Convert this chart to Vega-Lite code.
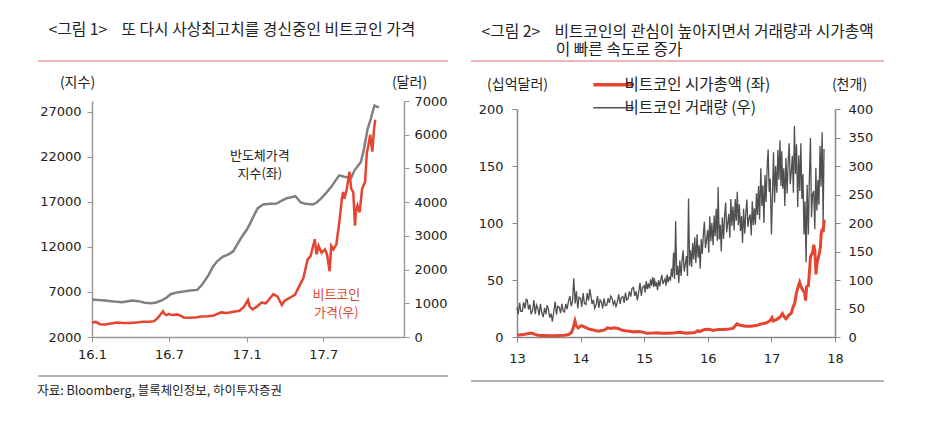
{
"$schema": "https://vega.github.io/schema/vega-lite/v6.json",
"background": "white",
"padding": {"left": 37, "top": 21, "right": 10, "bottom": 10},
"config": {
  "view": {"stroke": null},
  "font": "Noto Sans CJK KR",
  "axis": {"labelFont": "DejaVu Sans", "labelFontSize": 13, "labelColor": "#222", "titleFont": "Noto Sans CJK KR", "titleFontSize": 14, "titleFontWeight": "normal", "titleColor": "#222", "grid": false, "domainColor": "#999", "domainWidth": 1.5, "tickColor": "#999", "tickSize": 5, "labelPadding": 4, "labelOverlap": false, "labelFlush": false}
},
"datasets": {
"semi": [{"d":"2016-01-01","v":6150},{"d":"2016-01-15","v":6120},{"d":"2016-02-01","v":6050},{"d":"2016-02-15","v":5980},{"d":"2016-03-01","v":5900},{"d":"2016-03-13","v":5870},{"d":"2016-03-25","v":5980},{"d":"2016-04-06","v":6060},{"d":"2016-04-20","v":5980},{"d":"2016-05-05","v":5800},{"d":"2016-05-20","v":5760},{"d":"2016-06-01","v":5830},{"d":"2016-06-15","v":6100},{"d":"2016-06-25","v":6350},{"d":"2016-07-05","v":6750},{"d":"2016-07-20","v":6950},{"d":"2016-08-05","v":7050},{"d":"2016-08-20","v":7150},{"d":"2016-09-06","v":7230},{"d":"2016-09-17","v":7790},{"d":"2016-10-03","v":8900},{"d":"2016-10-13","v":9800},{"d":"2016-10-23","v":10400},{"d":"2016-11-05","v":10900},{"d":"2016-11-20","v":11200},{"d":"2016-11-30","v":11500},{"d":"2016-12-10","v":12300},{"d":"2016-12-20","v":13100},{"d":"2017-01-01","v":13900},{"d":"2017-01-08","v":14500},{"d":"2017-01-15","v":15200},{"d":"2017-01-27","v":16300},{"d":"2017-02-09","v":16710},{"d":"2017-02-25","v":16800},{"d":"2017-03-13","v":16820},{"d":"2017-03-25","v":17150},{"d":"2017-04-05","v":17400},{"d":"2017-04-14","v":17490},{"d":"2017-04-26","v":17630},{"d":"2017-05-09","v":16930},{"d":"2017-05-20","v":16780},{"d":"2017-06-06","v":16710},{"d":"2017-06-15","v":16900},{"d":"2017-06-26","v":17380},{"d":"2017-07-08","v":18000},{"d":"2017-07-20","v":18670},{"d":"2017-08-01","v":19500},{"d":"2017-08-08","v":19950},{"d":"2017-08-20","v":19800},{"d":"2017-09-05","v":19670},{"d":"2017-09-13","v":20500},{"d":"2017-09-28","v":21430},{"d":"2017-10-05","v":22800},{"d":"2017-10-14","v":25120},{"d":"2017-10-22","v":26300},{"d":"2017-10-30","v":27700},{"d":"2017-11-05","v":27550},{"d":"2017-11-10","v":27520}],
"btc": [{"d":"2016-01-01","v":430},{"d":"2016-01-10","v":448},{"d":"2016-01-20","v":380},{"d":"2016-02-01","v":370},{"d":"2016-02-15","v":400},{"d":"2016-03-01","v":430},{"d":"2016-03-15","v":415},{"d":"2016-04-01","v":416},{"d":"2016-04-15","v":430},{"d":"2016-05-01","v":450},{"d":"2016-05-15","v":455},{"d":"2016-05-27","v":470},{"d":"2016-06-05","v":575},{"d":"2016-06-12","v":680},{"d":"2016-06-17","v":760},{"d":"2016-06-20","v":690},{"d":"2016-06-25","v":650},{"d":"2016-07-01","v":680},{"d":"2016-07-10","v":650},{"d":"2016-07-20","v":670},{"d":"2016-08-01","v":610},{"d":"2016-08-05","v":575},{"d":"2016-08-15","v":570},{"d":"2016-09-01","v":575},{"d":"2016-09-15","v":610},{"d":"2016-10-01","v":615},{"d":"2016-10-15","v":640},{"d":"2016-11-01","v":730},{"d":"2016-11-15","v":710},{"d":"2016-12-01","v":750},{"d":"2016-12-15","v":780},{"d":"2016-12-25","v":890},{"d":"2017-01-04","v":1100},{"d":"2017-01-08","v":900},{"d":"2017-01-15","v":820},{"d":"2017-01-25","v":900},{"d":"2017-02-05","v":1020},{"d":"2017-02-15","v":1000},{"d":"2017-02-25","v":1150},{"d":"2017-03-05","v":1270},{"d":"2017-03-15","v":1200},{"d":"2017-03-25","v":950},{"d":"2017-04-01","v":1080},{"d":"2017-04-15","v":1180},{"d":"2017-04-25","v":1250},{"d":"2017-05-05","v":1500},{"d":"2017-05-15","v":1750},{"d":"2017-05-25","v":2300},{"d":"2017-06-01","v":2400},{"d":"2017-06-11","v":2900},{"d":"2017-06-15","v":2450},{"d":"2017-06-20","v":2700},{"d":"2017-06-27","v":2500},{"d":"2017-07-05","v":2600},{"d":"2017-07-10","v":2450},{"d":"2017-07-16","v":1950},{"d":"2017-07-20","v":2700},{"d":"2017-07-25","v":2600},{"d":"2017-08-01","v":2750},{"d":"2017-08-08","v":3400},{"d":"2017-08-14","v":4100},{"d":"2017-08-17","v":4300},{"d":"2017-08-20","v":4100},{"d":"2017-08-25","v":4350},{"d":"2017-09-01","v":4900},{"d":"2017-09-05","v":4400},{"d":"2017-09-10","v":4300},{"d":"2017-09-14","v":3300},{"d":"2017-09-16","v":3700},{"d":"2017-09-20","v":3900},{"d":"2017-09-25","v":3700},{"d":"2017-10-01","v":4400},{"d":"2017-10-08","v":4600},{"d":"2017-10-12","v":5450},{"d":"2017-10-16","v":5700},{"d":"2017-10-20","v":6000},{"d":"2017-10-25","v":5500},{"d":"2017-10-29","v":6150},{"d":"2017-11-01","v":6450}],
"mcap": [{"d":"2013-01-01","v":1.5},{"d":"2013-02-15","v":2.5},{"d":"2013-03-25","v":3.5},{"d":"2013-04-10","v":2.5},{"d":"2013-05-01","v":1.5},{"d":"2013-06-01","v":1.3},{"d":"2013-07-01","v":1.0},{"d":"2013-08-01","v":1.2},{"d":"2013-09-01","v":1.4},{"d":"2013-10-01","v":1.6},{"d":"2013-10-25","v":2.2},{"d":"2013-11-10","v":4},{"d":"2013-11-20","v":8},{"d":"2013-11-30","v":14},{"d":"2013-12-07","v":10},{"d":"2013-12-18","v":8},{"d":"2014-01-05","v":10},{"d":"2014-01-20","v":9},{"d":"2014-02-10","v":7.5},{"d":"2014-02-28","v":6.5},{"d":"2014-03-20","v":6},{"d":"2014-04-10","v":5},{"d":"2014-04-25","v":5.5},{"d":"2014-05-15","v":6},{"d":"2014-06-05","v":8},{"d":"2014-06-25","v":7.5},{"d":"2014-07-15","v":8},{"d":"2014-08-05","v":7.5},{"d":"2014-08-25","v":6},{"d":"2014-09-15","v":5.5},{"d":"2014-10-10","v":5},{"d":"2014-11-01","v":4.5},{"d":"2014-12-01","v":4.8},{"d":"2014-12-25","v":4.3},{"d":"2015-01-15","v":3.2},{"d":"2015-02-10","v":3.4},{"d":"2015-03-10","v":3.8},{"d":"2015-04-10","v":3.3},{"d":"2015-05-15","v":3.3},{"d":"2015-06-15","v":3.4},{"d":"2015-07-10","v":4.0},{"d":"2015-08-01","v":4.2},{"d":"2015-08-25","v":3.4},{"d":"2015-09-20","v":3.5},{"d":"2015-10-20","v":4.0},{"d":"2015-11-05","v":5.5},{"d":"2015-11-15","v":4.8},{"d":"2015-12-15","v":6.5},{"d":"2016-01-10","v":6.8},{"d":"2016-02-01","v":5.8},{"d":"2016-03-01","v":6.5},{"d":"2016-04-01","v":6.5},{"d":"2016-05-01","v":7},{"d":"2016-05-25","v":7.5},{"d":"2016-06-17","v":11.5},{"d":"2016-07-01","v":10.5},{"d":"2016-08-05","v":9.5},{"d":"2016-09-05","v":9.5},{"d":"2016-10-05","v":10},{"d":"2016-11-05","v":11.5},{"d":"2016-12-05","v":12.5},{"d":"2016-12-25","v":14.5},{"d":"2017-01-04","v":17},{"d":"2017-01-12","v":14},{"d":"2017-02-01","v":15.5},{"d":"2017-02-20","v":17.5},{"d":"2017-03-05","v":20.5},{"d":"2017-03-18","v":17},{"d":"2017-03-25","v":16},{"d":"2017-04-10","v":19},{"d":"2017-04-25","v":21},{"d":"2017-05-05","v":26},{"d":"2017-05-15","v":30},{"d":"2017-05-25","v":39},{"d":"2017-06-05","v":45},{"d":"2017-06-12","v":48},{"d":"2017-06-20","v":44},{"d":"2017-07-01","v":41},{"d":"2017-07-10","v":39},{"d":"2017-07-16","v":32},{"d":"2017-07-22","v":44},{"d":"2017-08-01","v":45},{"d":"2017-08-05","v":52},{"d":"2017-08-13","v":70},{"d":"2017-08-18","v":72},{"d":"2017-08-25","v":74},{"d":"2017-09-01","v":81},{"d":"2017-09-07","v":76},{"d":"2017-09-14","v":55},{"d":"2017-09-20","v":65},{"d":"2017-09-28","v":70},{"d":"2017-10-05","v":75},{"d":"2017-10-10","v":80},{"d":"2017-10-13","v":90},{"d":"2017-10-20","v":95},{"d":"2017-10-25","v":92},{"d":"2017-10-31","v":103}],
"vol": [
{"d":"2013-01-01","v":52},{"d":"2013-01-08","v":40},{"d":"2013-01-16","v":60},{"d":"2013-01-23","v":45},
{"d":"2013-02-01","v":45},{"d":"2013-02-08","v":61},{"d":"2013-02-16","v":50},{"d":"2013-02-23","v":66},
{"d":"2013-03-01","v":65},{"d":"2013-03-08","v":48},{"d":"2013-03-16","v":57},{"d":"2013-03-23","v":40},
{"d":"2013-04-01","v":47},{"d":"2013-04-08","v":65},{"d":"2013-04-16","v":40},{"d":"2013-04-23","v":56},
{"d":"2013-05-01","v":50},{"d":"2013-05-08","v":38},{"d":"2013-05-16","v":58},{"d":"2013-05-23","v":43},
{"d":"2013-06-01","v":35},{"d":"2013-06-08","v":51},{"d":"2013-06-16","v":40},{"d":"2013-06-23","v":56},
{"d":"2013-07-01","v":48},{"d":"2013-07-08","v":34},{"d":"2013-07-16","v":41},{"d":"2013-07-23","v":27},
{"d":"2013-08-01","v":46},{"d":"2013-08-08","v":62},{"d":"2013-08-16","v":39},{"d":"2013-08-23","v":54},
{"d":"2013-09-01","v":52},{"d":"2013-09-08","v":42},{"d":"2013-09-16","v":58},{"d":"2013-09-23","v":46},
{"d":"2013-10-01","v":44},{"d":"2013-10-08","v":58},{"d":"2013-10-16","v":49},{"d":"2013-10-23","v":62},
{"d":"2013-11-01","v":72},{"d":"2013-11-08","v":54},{"d":"2013-11-16","v":63},{"d":"2013-11-23","v":103},
{"d":"2013-12-01","v":59},{"d":"2013-12-08","v":80},{"d":"2013-12-16","v":50},{"d":"2013-12-23","v":70},
{"d":"2014-01-01","v":68},{"d":"2014-01-08","v":53},{"d":"2014-01-16","v":77},{"d":"2014-01-23","v":59},
{"d":"2014-02-01","v":57},{"d":"2014-02-08","v":77},{"d":"2014-02-16","v":64},{"d":"2014-02-23","v":84},
{"d":"2014-03-01","v":73},{"d":"2014-03-08","v":58},{"d":"2014-03-16","v":65},{"d":"2014-03-23","v":50},
{"d":"2014-04-01","v":57},{"d":"2014-04-08","v":72},{"d":"2014-04-16","v":51},{"d":"2014-04-23","v":65},
{"d":"2014-05-01","v":61},{"d":"2014-05-08","v":50},{"d":"2014-05-16","v":68},{"d":"2014-05-23","v":55},
{"d":"2014-06-01","v":56},{"d":"2014-06-08","v":68},{"d":"2014-06-16","v":60},{"d":"2014-06-23","v":72},
{"d":"2014-07-01","v":68},{"d":"2014-07-08","v":57},{"d":"2014-07-16","v":63},{"d":"2014-07-23","v":52},
{"d":"2014-08-01","v":63},{"d":"2014-08-08","v":75},{"d":"2014-08-16","v":58},{"d":"2014-08-23","v":69},
{"d":"2014-09-01","v":71},{"d":"2014-09-08","v":60},{"d":"2014-09-16","v":78},{"d":"2014-09-23","v":65},
{"d":"2014-10-01","v":67},{"d":"2014-10-08","v":80},{"d":"2014-10-16","v":71},{"d":"2014-10-23","v":85},
{"d":"2014-11-01","v":87},{"d":"2014-11-08","v":72},{"d":"2014-11-16","v":80},{"d":"2014-11-23","v":64},
{"d":"2014-12-01","v":79},{"d":"2014-12-08","v":95},{"d":"2014-12-16","v":72},{"d":"2014-12-23","v":87},
{"d":"2015-01-01","v":90},{"d":"2015-01-07","v":78},{"d":"2015-01-13","v":98},{"d":"2015-01-19","v":84},{"d":"2015-01-25","v":94},
{"d":"2015-02-01","v":85},{"d":"2015-02-07","v":101},{"d":"2015-02-13","v":90},{"d":"2015-02-19","v":105},{"d":"2015-02-25","v":88},
{"d":"2015-03-01","v":103},{"d":"2015-03-07","v":89},{"d":"2015-03-13","v":96},{"d":"2015-03-19","v":82},{"d":"2015-03-25","v":100},
{"d":"2015-04-01","v":89},{"d":"2015-04-07","v":101},{"d":"2015-04-13","v":109},{"d":"2015-04-19","v":93},{"d":"2015-04-25","v":98},
{"d":"2015-05-01","v":102},{"d":"2015-05-07","v":90},{"d":"2015-05-13","v":110},{"d":"2015-05-19","v":96},{"d":"2015-05-25","v":106},
{"d":"2015-06-01","v":99},{"d":"2015-06-07","v":120},{"d":"2015-06-13","v":105},{"d":"2015-06-19","v":148},{"d":"2015-06-25","v":102},
{"d":"2015-07-01","v":203},{"d":"2015-07-07","v":109},{"d":"2015-07-13","v":125},{"d":"2015-07-19","v":95},{"d":"2015-07-25","v":134},
{"d":"2015-08-01","v":107},{"d":"2015-08-07","v":135},{"d":"2015-08-13","v":152},{"d":"2015-08-19","v":115},{"d":"2015-08-25","v":126},
{"d":"2015-09-01","v":142},{"d":"2015-09-07","v":107},{"d":"2015-09-13","v":243},{"d":"2015-09-19","v":125},{"d":"2015-09-25","v":152},
{"d":"2015-10-01","v":123},{"d":"2015-10-07","v":165},{"d":"2015-10-13","v":136},{"d":"2015-10-19","v":175},{"d":"2015-10-25","v":130},
{"d":"2015-11-01","v":180},{"d":"2015-11-07","v":139},{"d":"2015-11-13","v":161},{"d":"2015-11-19","v":120},{"d":"2015-11-25","v":172},
{"d":"2015-12-01","v":146},{"d":"2015-12-07","v":180},{"d":"2015-12-13","v":202},{"d":"2015-12-19","v":156},{"d":"2015-12-25","v":170},
{"d":"2016-01-01","v":188},{"d":"2016-01-07","v":148},{"d":"2016-01-13","v":212},{"d":"2016-01-19","v":168},{"d":"2016-01-25","v":200},
{"d":"2016-02-01","v":161},{"d":"2016-02-07","v":213},{"d":"2016-02-13","v":177},{"d":"2016-02-19","v":225},{"d":"2016-02-25","v":169},
{"d":"2016-03-01","v":263},{"d":"2016-03-07","v":171},{"d":"2016-03-13","v":197},{"d":"2016-03-19","v":150},{"d":"2016-03-25","v":210},
{"d":"2016-04-01","v":172},{"d":"2016-04-07","v":212},{"d":"2016-04-13","v":236},{"d":"2016-04-19","v":184},{"d":"2016-04-25","v":200},
{"d":"2016-05-01","v":216},{"d":"2016-05-07","v":174},{"d":"2016-05-13","v":242},{"d":"2016-05-19","v":195},{"d":"2016-05-25","v":229},
{"d":"2016-06-01","v":187},{"d":"2016-06-07","v":242},{"d":"2016-06-13","v":204},{"d":"2016-06-19","v":255},{"d":"2016-06-25","v":196},
{"d":"2016-07-01","v":233},{"d":"2016-07-07","v":186},{"d":"2016-07-13","v":212},{"d":"2016-07-19","v":165},{"d":"2016-07-25","v":225},
{"d":"2016-08-01","v":181},{"d":"2016-08-07","v":219},{"d":"2016-08-13","v":241},{"d":"2016-08-19","v":193},{"d":"2016-08-25","v":208},
{"d":"2016-09-01","v":215},{"d":"2016-09-07","v":178},{"d":"2016-09-13","v":238},{"d":"2016-09-19","v":196},{"d":"2016-09-25","v":226},
{"d":"2016-10-01","v":197},{"d":"2016-10-07","v":252},{"d":"2016-10-13","v":214},{"d":"2016-10-19","v":265},{"d":"2016-10-25","v":206},
{"d":"2016-11-01","v":296},{"d":"2016-11-07","v":230},{"d":"2016-11-13","v":266},{"d":"2016-11-19","v":200},{"d":"2016-11-25","v":284},
{"d":"2016-12-01","v":237},{"d":"2016-12-07","v":295},{"d":"2016-12-13","v":329},{"d":"2016-12-19","v":255},{"d":"2016-12-25","v":278},
{"d":"2017-01-01","v":180},{"d":"2017-01-07","v":250},{"d":"2017-01-13","v":324},{"d":"2017-01-19","v":236},{"d":"2017-01-25","v":300},
{"d":"2017-02-01","v":253},{"d":"2017-02-07","v":328},{"d":"2017-02-13","v":276},{"d":"2017-02-19","v":345},{"d":"2017-02-25","v":265},
{"d":"2017-03-01","v":326},{"d":"2017-03-07","v":260},{"d":"2017-03-13","v":296},{"d":"2017-03-19","v":230},{"d":"2017-03-25","v":314},
{"d":"2017-04-01","v":252},{"d":"2017-04-07","v":307},{"d":"2017-04-13","v":340},{"d":"2017-04-19","v":268},{"d":"2017-04-25","v":290},
{"d":"2017-05-01","v":318},{"d":"2017-05-07","v":253},{"d":"2017-05-13","v":370},{"d":"2017-05-19","v":286},{"d":"2017-05-25","v":338},
{"d":"2017-06-01","v":228},{"d":"2017-06-07","v":319},{"d":"2017-06-13","v":256},{"d":"2017-06-19","v":340},{"d":"2017-06-25","v":242},
{"d":"2017-07-01","v":286},{"d":"2017-07-07","v":180},{"d":"2017-07-13","v":238},{"d":"2017-07-19","v":131},{"d":"2017-07-25","v":267},
{"d":"2017-08-01","v":180},{"d":"2017-08-07","v":279},{"d":"2017-08-13","v":349},{"d":"2017-08-19","v":210},{"d":"2017-08-25","v":250},
{"d":"2017-09-01","v":256},{"d":"2017-09-07","v":189},{"d":"2017-09-13","v":297},{"d":"2017-09-19","v":222},{"d":"2017-09-25","v":276},
{"d":"2017-10-01","v":232},{"d":"2017-10-07","v":335},{"d":"2017-10-13","v":264},{"d":"2017-10-19","v":359},{"d":"2017-10-25","v":201},{"d":"2017-10-30","v":330}]
},
"spacing": 21,
"resolve": {"scale": {"color": "independent"}, "legend": {"color": "independent"}},
"hconcat": [
 {"spacing": 13, "vconcat": [
   {"width": 410, "height": 1, "data": {"values": [{}]},
    "title": {"text": "<그림 1>\u00a0\u00a0\u00a0\u00a0또 다시 사상최고치를 경신중인 비트코인 가격", "anchor": "start", "dx": 11, "offset": 22, "font": "Noto Sans CJK KR", "fontSize": 15.8, "fontWeight": "normal", "color": "#222"},
    "mark": {"type": "rule", "color": "#e07272", "strokeWidth": 1.2},
    "encoding": {"x": {"datum": 0, "type": "quantitative", "scale": {"domain": [0, 1]}, "axis": null}, "x2": {"datum": 1}, "y": {"datum": 1, "type": "quantitative", "scale": {"domain": [0, 1]}, "axis": null}}},
   {"spacing": 0, "hconcat": [
     {"width": 1, "height": 1, "data": {"values": [{}]}, "mark": {"type": "text", "text": ""}, "encoding": {}},
     {"width": 312, "height": 236,
      "resolve": {"scale": {"y": "independent"}},
      "layer": [
        {"layer": [
          {"data": {"name": "semi"}, "mark": {"type": "line", "color": "#808080", "strokeWidth": 2.5},
           "encoding": {
             "x": {"field": "d", "type": "temporal", "scale": {"type": "utc", "domain": [{"year": 2016, "month": 1, "date": 1, "utc": true}, {"year": 2018, "month": 1, "date": 8, "utc": true}]},
                   "axis": {"values": [{"year": 2016, "month": 1, "date": 1, "utc": true}, {"year": 2016, "month": 7, "date": 1, "utc": true}, {"year": 2017, "month": 1, "date": 1, "utc": true}, {"year": 2017, "month": 7, "date": 1, "utc": true}], "format": "%y.%-m", "title": null, "labelPadding": 6}},
             "y": {"field": "v", "type": "quantitative", "scale": {"domain": [2000, 28200], "nice": false, "zero": false},
                   "axis": {"orient": "left", "values": [2000, 7000, 12000, 17000, 22000, 27000], "format": "d", "title": "(지수)", "titleAngle": 0, "titleX": -15, "titleY": -19, "titleAlign": "center", "titleBaseline": "middle", "labelPadding": 6, "labelOverlap": false}}
           }},
          {"data": {"values": [{}]}, "mark": {"type": "text", "text": ["반도체가격", "지수(좌)"], "font": "Noto Sans CJK KR", "fontSize": 13, "lineHeight": 18, "color": "#222", "align": "center", "baseline": "middle"},
           "encoding": {"x": {"datum": {"year": 2017, "month": 2, "date": 1, "utc": true}, "type": "temporal"},
                        "y": {"datum": 22100, "type": "quantitative", "axis": {"orient": "left", "values": [2000, 7000, 12000, 17000, 22000, 27000], "format": "d", "title": "(지수)", "titleAngle": 0, "titleX": -15, "titleY": -19, "titleAlign": "center", "titleBaseline": "middle", "labelPadding": 6, "labelOverlap": false}}}}
        ]},
        {"layer": [
          {"data": {"name": "btc"}, "mark": {"type": "line", "color": "#e64431", "strokeWidth": 2.5},
           "encoding": {
             "x": {"field": "d", "type": "temporal"},
             "y": {"field": "v", "type": "quantitative", "scale": {"domain": [0, 7000], "nice": false},
                   "axis": {"orient": "right", "values": [0, 1000, 2000, 3000, 4000, 5000, 6000, 7000], "format": "d", "title": "(달러)", "titleAngle": 0, "titleX": 5, "titleY": -19, "titleAlign": "center", "titleBaseline": "middle", "labelPadding": 5, "labelOverlap": false}}
           }},
          {"data": {"values": [{}]}, "mark": {"type": "text", "text": ["비트코인", "가격(우)"], "font": "Noto Sans CJK KR", "fontSize": 13, "lineHeight": 18, "color": "#e64431", "align": "center", "baseline": "middle"},
           "encoding": {"x": {"datum": {"year": 2017, "month": 8, "date": 1, "utc": true}, "type": "temporal"},
                        "y": {"datum": 1255, "type": "quantitative", "axis": {"orient": "right", "values": [0, 1000, 2000, 3000, 4000, 5000, 6000, 7000], "format": "d", "title": "(달러)", "titleAngle": 0, "titleX": 5, "titleY": -19, "titleAlign": "center", "titleBaseline": "middle", "labelPadding": 5, "labelOverlap": false}}}}
        ]}
      ]}
   ]},
   {"width": 410, "height": 2, "data": {"values": [{}]},
    "title": {"text": "자료: Bloomberg, 블록체인정보, 하이투자증권", "orient": "bottom", "anchor": "start", "offset": 8, "font": "Noto Sans CJK KR", "fontSize": 12.5, "fontWeight": "normal", "color": "#222"},
    "mark": {"type": "rule", "color": "#999", "strokeWidth": 1.5},
    "encoding": {"x": {"datum": 0, "type": "quantitative", "scale": {"domain": [0, 1]}, "axis": null}, "x2": {"datum": 1}, "y": {"datum": 0, "type": "quantitative", "scale": {"domain": [0, 1]}, "axis": null}}}
 ]},
 {"spacing": 15, "resolve": {"scale": {"color": "independent"}, "legend": {"color": "independent"}}, "vconcat": [
   {"width": 413, "height": 1, "data": {"values": [{}]},
    "title": {"text": ["<그림 2>\u00a0\u00a0\u00a0\u00a0비트코인의 관심이 높아지면서 거래량과 시가총액", "\u200b\u00a0\u00a0\u00a0\u00a0\u00a0\u00a0\u00a0\u00a0\u00a0\u00a0\u00a0\u00a0\u00a0\u00a0\u00a0\u00a0\u00a0\u00a0\u00a0\u00a0\u00a0이 빠른 속도로 증가"], "anchor": "start", "dx": 11, "offset": 2, "lineHeight": 18, "font": "Noto Sans CJK KR", "fontSize": 15.8, "fontWeight": "normal", "color": "#222"},
    "mark": {"type": "rule", "color": "#e07272", "strokeWidth": 1.2},
    "encoding": {"x": {"datum": 0, "type": "quantitative", "scale": {"domain": [0, 1]}, "axis": null}, "x2": {"datum": 1}, "y": {"datum": 1, "type": "quantitative", "scale": {"domain": [0, 1]}, "axis": null}}},
   {"spacing": 6, "resolve": {"scale": {"color": "independent"}, "legend": {"color": "independent"}}, "hconcat": [
     {"width": 1, "height": 1, "data": {"values": [{}]}, "mark": {"type": "text", "text": ""}, "encoding": {}},
     {"width": 318, "height": 228,
      "resolve": {"scale": {"y": "independent"}},
      "layer": [
        {"data": {"name": "vol"}, "mark": {"type": "line", "strokeWidth": 1.3},
         "encoding": {
           "x": {"field": "d", "type": "temporal", "scale": {"type": "utc", "domain": [{"year": 2013, "month": 1, "date": 1, "utc": true}, {"year": 2018, "month": 1, "date": 1, "utc": true}]},
                 "axis": {"values": [{"year": 2013, "month": 1, "date": 1, "utc": true}, {"year": 2014, "month": 1, "date": 1, "utc": true}, {"year": 2015, "month": 1, "date": 1, "utc": true}, {"year": 2016, "month": 1, "date": 1, "utc": true}, {"year": 2017, "month": 1, "date": 1, "utc": true}, {"year": 2018, "month": 1, "date": 1, "utc": true}], "format": "%y", "title": null, "labelPadding": 10, "domainColor": "#888", "tickColor": "#888"}},
           "y": {"field": "v", "type": "quantitative", "scale": {"domain": [0, 400], "nice": false},
                 "axis": {"orient": "right", "values": [0, 50, 100, 150, 200, 250, 300, 350, 400], "title": "(천개)", "titleAngle": 0, "titleX": 14, "titleY": -25, "titleAlign": "center", "titleBaseline": "middle", "labelPadding": 8, "labelOverlap": false, "domainColor": "#888", "tickColor": "#888"}},
           "color": {"datum": "비트코인 거래량 (우)",
                     "scale": {"domain": ["비트코인 시가총액 (좌)", "비트코인 거래량 (우)"], "range": ["#e64431", "#505050"]},
                     "legend": {"orient": "none", "legendX": 89, "legendY": -32, "title": null, "symbolType": "stroke", "symbolSize": 1650, "symbolStrokeWidth": 2.5, "labelFont": "Noto Sans CJK KR", "labelFontSize": 15.5, "labelColor": "#222", "labelOffset": 3, "rowPadding": 6, "padding": 0, "labelLimit": 300,
                                "encode": {"symbols": {"update": {"strokeWidth": {"signal": "datum.value === '비트코인 시가총액 (좌)' ? 3.5 : 1.5"}}}}}}
         }},
        {"data": {"name": "mcap"}, "mark": {"type": "line", "strokeWidth": 3},
         "encoding": {
           "x": {"field": "d", "type": "temporal"},
           "y": {"field": "v", "type": "quantitative", "scale": {"domain": [0, 200], "nice": false},
                 "axis": {"orient": "left", "values": [0, 50, 100, 150, 200], "title": "(십억달러)", "titleAngle": 0, "titleX": 0, "titleY": -25, "titleAlign": "center", "titleBaseline": "middle", "labelPadding": 9, "labelOverlap": false, "domainColor": "#888", "tickColor": "#888"}},
           "color": {"datum": "비트코인 시가총액 (좌)"}
         }}
      ]}
   ]},
   {"width": 413, "height": 1, "data": {"values": [{}]},
    "mark": {"type": "rule", "color": "#999", "strokeWidth": 1.5},
    "encoding": {"x": {"datum": 0, "type": "quantitative", "scale": {"domain": [0, 1]}, "axis": null}, "x2": {"datum": 1}, "y": {"datum": 0, "type": "quantitative", "scale": {"domain": [0, 1]}, "axis": null}}}
 ]}
]
}
